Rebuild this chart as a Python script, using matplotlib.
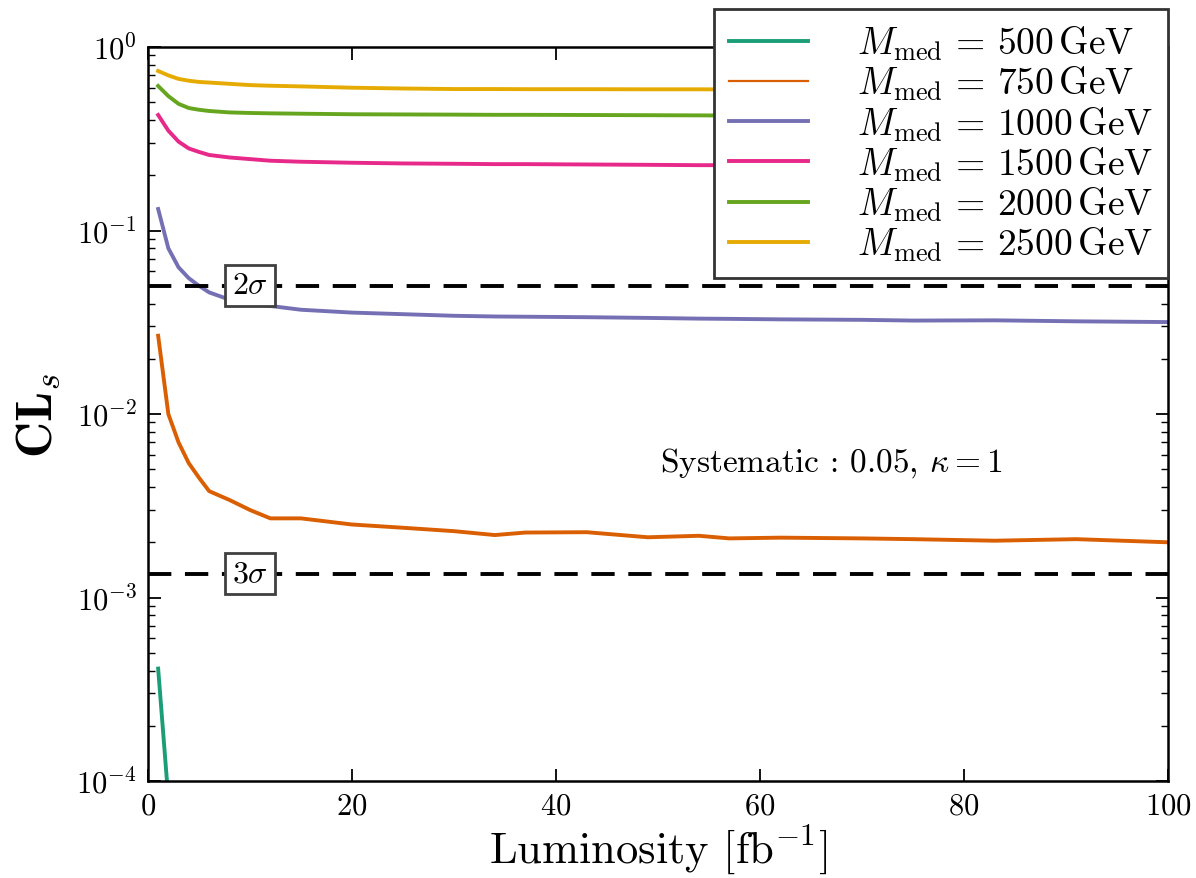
import matplotlib
matplotlib.use("Agg")
import matplotlib.pyplot as plt
from matplotlib.ticker import LogLocator, NullFormatter

plt.rcParams["font.family"] = "serif"
plt.rcParams["font.serif"] = ["cmr10", "DejaVu Serif"]
plt.rcParams["mathtext.fontset"] = "cm"
plt.rcParams["axes.formatter.use_mathtext"] = True

# Integrated luminosity grid [fb^-1]
lum = [1, 2, 3, 4, 5, 6, 8, 10, 12, 15, 20, 25, 30, 34, 37, 43, 49, 54,
       57, 62, 70, 75, 83, 91, 100]

# CL_s values per mediator mass
lum_500 = [1, 2, 3, 4, 5]
cls_500 = [4.1e-4, 8.0e-5, 1.5e-5, 3.0e-6, 6.0e-7]

cls_750 = [0.0267, 0.0100, 0.0070, 0.0054, 0.0045, 0.0038, 0.0034, 0.0030,
           0.0027, 0.0027, 0.0025, 0.0024, 0.0023, 0.00219, 0.00226, 0.00227,
           0.00213, 0.00217, 0.00210, 0.00212, 0.00210, 0.00208, 0.00204,
           0.00208, 0.00200]

cls_1000 = [0.131, 0.080, 0.063, 0.055, 0.050, 0.046, 0.042, 0.040, 0.0388,
            0.0370, 0.0357, 0.0350, 0.0343, 0.0340, 0.0339, 0.0337, 0.0334,
            0.0331, 0.0330, 0.0328, 0.0326, 0.0323, 0.0324, 0.0320, 0.0317]

cls_1500 = [0.426, 0.350, 0.305, 0.280, 0.268, 0.258, 0.250, 0.245, 0.240,
            0.237, 0.234, 0.232, 0.231, 0.230, 0.230, 0.229, 0.228, 0.227,
            0.227, 0.227, 0.226, 0.226, 0.226, 0.225, 0.225]

cls_2000 = [0.613, 0.540, 0.490, 0.465, 0.455, 0.448, 0.440, 0.437, 0.435,
            0.433, 0.430, 0.429, 0.428, 0.427, 0.427, 0.426, 0.425, 0.424,
            0.423, 0.422, 0.422, 0.421, 0.421, 0.420, 0.420]

cls_2500 = [0.740, 0.700, 0.670, 0.655, 0.645, 0.640, 0.630, 0.620, 0.615,
            0.610, 0.600, 0.594, 0.590, 0.590, 0.589, 0.589, 0.588, 0.588,
            0.587, 0.587, 0.586, 0.586, 0.586, 0.585, 0.585]

masses = [500, 750, 1000, 1500, 2000, 2500]
colors = ["#1b9e77", "#d95f02", "#7570b3", "#e7298a", "#66a61e", "#e6ab02"]

# Significance thresholds
sig_levels = [0.05, 0.00135]
sig_labels = [r"$2\sigma$", r"$3\sigma$"]

fig = plt.figure(figsize=(11.96, 8.79), dpi=100)
ax = fig.add_axes([0.1237, 0.1103, 0.8529, 0.8351])

series = [(lum_500, cls_500), (lum, cls_750), (lum, cls_1000),
          (lum, cls_1500), (lum, cls_2000), (lum, cls_2500)]
handles = []
for (xs, ys), m, c in zip(series, masses, colors):
    h, = ax.plot(xs, ys, color=c, lw=2.8,
                 label=r"$M_{\rm med}\,=\,%d\,{\rm GeV}$" % m)
    handles.append(h)

for lvl, lab in zip(sig_levels, sig_labels):
    ax.axhline(lvl, color="black", lw=2.8, ls=(0, (6, 3.5)))
    ax.text(10, lvl, lab, fontsize=23, ha="center", va="center",
            bbox=dict(boxstyle="square,pad=0.22", facecolor="white",
                      edgecolor="0.25", lw=2.0))

ax.text(67, 0.0055, r"Systematic : 0.05, $\kappa = 1$", fontsize=24,
        ha="center", va="center")

ax.set_yscale("log")
ax.set_xlim(0, 100)
ax.set_ylim(1e-4, 1)
ax.yaxis.set_major_locator(LogLocator(base=10, numticks=10))
ax.yaxis.set_minor_locator(LogLocator(base=10, subs=range(2, 10), numticks=20))
ax.yaxis.set_minor_formatter(NullFormatter())
ax.set_xticks([0, 20, 40, 60, 80, 100])

ax.tick_params(which="both", direction="in", top=True, right=True,
               labelsize=22, pad=8)
ax.tick_params(which="major", length=9, width=1.3)
ax.tick_params(which="minor", length=5, width=1.0)
for sp in ax.spines.values():
    sp.set_linewidth(1.8)

ax.set_xlabel(r"Luminosity [fb$^{-1}$]", fontsize=32, labelpad=2)
ax.set_ylabel(r"$\mathbf{CL}_s$", fontsize=36, labelpad=10)

leg = ax.legend(handles=handles, loc="upper right",
                bbox_to_anchor=(1.0, 1.052), fontsize=27, frameon=True,
                fancybox=False, framealpha=1.0, edgecolor="0.2",
                borderpad=0.4, labelspacing=0.05, handlelength=2.1,
                handletextpad=1.3, borderaxespad=0.0)
leg.get_frame().set_linewidth(2.0)
leg.legend_handles[1].set_linewidth(1.6)

fig.savefig("out.png", dpi=100)
